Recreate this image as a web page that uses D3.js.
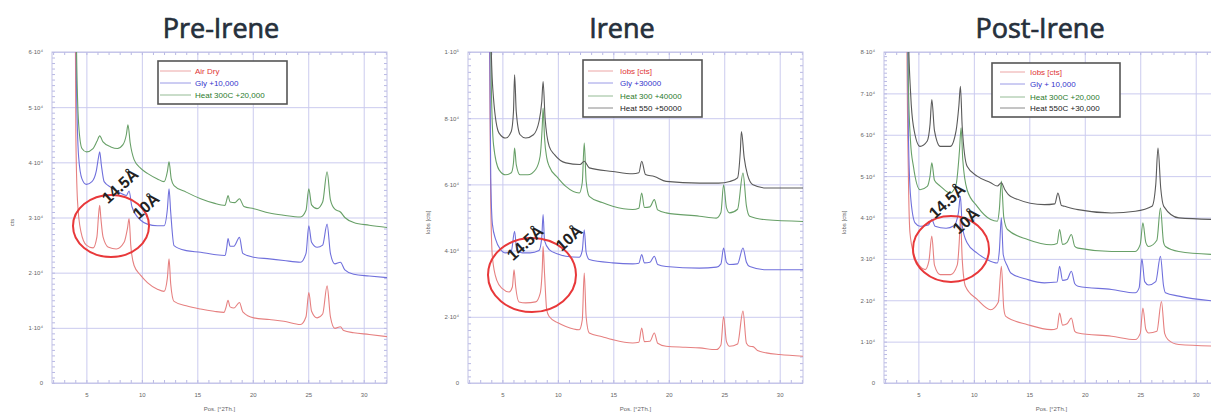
<!DOCTYPE html>
<html>
<head>
<meta charset="utf-8">
<script src="https://cdn.jsdelivr.net/npm/d3@7"></script>
<style>
  body { margin: 0; background: #fff; }
  svg { display: block; }
</style>
</head>
<body>
<svg id="chart" width="1211" height="413"></svg>
<script>
// ---- data: [2theta, counts] ----

// Pre-Irene
const preAirDry = [
  [3.85, 150000], [3.95, 90000], [4.05, 45000], [4.2, 33000], [4.5, 27500], [5.0, 25000],
  [5.6, 24500], [5.95, 26500], [6.1, 30500], [6.2, 32200], [6.3, 30000], [6.5, 26500],
  [7.0, 24600], [7.7, 24300], [8.4, 25500], [8.7, 28000], [8.85, 29800], [9.0, 25000],
  [9.3, 21300], [9.9, 19500], [10.5, 18200], [11.4, 17000], [12.0, 16600], [12.3, 19000],
  [12.45, 22500], [12.6, 18000], [12.9, 14800], [14.0, 14000], [15.3, 13400], [16.5, 13000],
  [17.4, 12800], [17.6, 13800], [17.77, 15000], [17.95, 13800], [18.3, 13600], [18.8, 14600],
  [19.1, 12900], [20.1, 11800], [21.5, 11500], [22.8, 11200], [24.3, 10600], [24.8, 12000],
  [25.05, 16400], [25.3, 13000], [25.8, 11800], [26.3, 12500], [26.7, 17600], [27.0, 12000],
  [27.4, 9900], [27.9, 10200], [28.2, 9500], [29.1, 9100], [30.5, 8800], [32.1, 8400]
];
const preGly = [
  [3.85, 150000], [3.95, 100000], [4.1, 55000], [4.3, 41000], [4.6, 37000], [5.0, 36000],
  [5.5, 36500], [5.9, 38500], [6.1, 41000], [6.2, 41900], [6.35, 39500], [6.6, 36500],
  [7.2, 35500], [8.0, 34500], [8.6, 34000], [8.85, 34800], [9.1, 32000], [9.9, 29500],
  [10.5, 28800], [11.4, 28500], [12.0, 28500], [12.3, 31500], [12.45, 35200], [12.6, 31000],
  [12.9, 24900], [14.0, 24000], [15.3, 23700], [16.5, 23300], [17.5, 23100], [17.65, 24500],
  [17.77, 26200], [17.95, 24800], [18.3, 24800], [18.8, 26400], [19.1, 23500], [20.1, 22800],
  [21.5, 22500], [22.8, 22200], [24.3, 21900], [24.8, 23500], [25.05, 28500], [25.3, 25500],
  [25.8, 24600], [26.3, 25000], [26.7, 28800], [27.0, 23500], [27.4, 21600], [27.9, 21900],
  [28.3, 20500], [29.1, 19700], [30.5, 19400], [32.1, 19100]
];
const preHeat300 = [
  [3.85, 150000], [3.95, 110000], [4.1, 62000], [4.3, 47000], [4.6, 42500], [5.0, 41900],
  [5.6, 42500], [5.95, 43800], [6.2, 44800], [6.5, 43700], [7.2, 42800], [7.8, 42500],
  [8.3, 43200], [8.6, 45000], [8.75, 46800], [8.95, 43500], [9.3, 40500], [9.9, 38900],
  [10.5, 38000], [11.4, 37000], [12.0, 36500], [12.3, 38300], [12.45, 40100], [12.65, 37000],
  [12.9, 35800], [14.0, 34600], [15.3, 33400], [16.5, 32600], [17.5, 32200], [17.65, 33200],
  [17.77, 34000], [17.95, 32800], [18.4, 32700], [18.8, 33400], [19.2, 32000], [20.1, 31600],
  [21.5, 30800], [22.8, 30400], [24.3, 30100], [24.8, 31300], [25.05, 35200], [25.3, 32300],
  [25.8, 31600], [26.3, 32800], [26.7, 38300], [27.0, 33200], [27.4, 31500], [27.9, 31000],
  [28.3, 30000], [29.1, 29100], [30.5, 28600], [32.1, 28200]
];

// Irene
const ireneIobs = [
  [3.7, 250000], [3.8, 120000], [3.95, 55000], [4.1, 38000], [4.5, 31000], [5.0, 28500],
  [5.6, 27500], [5.9, 29000], [6.05, 34200], [6.2, 29000], [6.5, 24500], [7.1, 24200],
  [8.0, 24500], [8.4, 27000], [8.6, 35000], [8.67, 41300], [8.8, 33000], [9.0, 22000],
  [9.22, 20100], [10.0, 18200], [10.72, 17100], [11.93, 16100], [12.2, 19000], [12.38, 33200],
  [12.55, 20000], [12.83, 15100], [14.0, 14000], [14.94, 13100], [16.75, 12100], [17.3, 12300],
  [17.56, 16600], [17.8, 12500], [18.3, 12600], [18.7, 15100], [19.0, 12000], [19.76, 11100],
  [21.5, 10800], [22.77, 10600], [24.28, 10100], [24.7, 11500], [24.94, 20100], [25.2, 12500],
  [25.48, 11100], [26.2, 11800], [26.69, 21700], [27.0, 12000], [27.29, 11100], [27.6, 11000],
  [28.0, 9800], [28.8, 9100], [30.0, 8600], [32.1, 8100]
];
const ireneGly = [
  [3.7, 250000], [3.8, 130000], [3.95, 62000], [4.1, 48000], [4.4, 43300], [4.8, 40500],
  [5.3, 39300], [5.8, 39800], [6.1, 45800], [6.3, 40000], [6.8, 39300], [7.5, 39300],
  [8.3, 40000], [8.55, 44000], [8.67, 50900], [8.8, 43000], [9.22, 40300], [10.0, 39000],
  [10.72, 38300], [11.93, 38000], [12.2, 40000], [12.38, 46300], [12.55, 39500], [12.83, 37300],
  [14.94, 36300], [16.75, 36000], [17.3, 36200], [17.56, 38800], [17.8, 36300], [18.3, 36500],
  [18.7, 38300], [19.0, 35800], [19.76, 35200], [22.77, 34700], [24.3, 35000], [24.7, 36000],
  [24.94, 40800], [25.2, 36500], [25.48, 35800], [26.2, 36000], [26.69, 40800], [27.0, 36500],
  [27.3, 35200], [28.8, 34200], [32.1, 34200]
];
const ireneHeat300 = [
  [3.7, 250000], [3.85, 140000], [4.0, 90000], [4.2, 72000], [4.7, 64400], [5.3, 62900],
  [5.8, 63500], [6.0, 66500], [6.1, 71000], [6.25, 66000], [6.6, 62900], [7.3, 62900],
  [8.0, 64500], [8.4, 68500], [8.6, 78000], [8.67, 83100], [8.8, 74000], [9.0, 68000],
  [9.22, 65500], [10.0, 62000], [10.72, 59400], [11.93, 57400], [12.2, 60500], [12.38, 72500],
  [12.55, 61000], [12.83, 56400], [14.0, 54500], [14.94, 53400], [16.75, 52400], [17.3, 52800],
  [17.56, 57400], [17.8, 53000], [18.3, 53200], [18.7, 55400], [19.0, 52300], [19.76, 51400],
  [22.77, 50400], [24.28, 49800], [24.7, 51500], [24.94, 59900], [25.2, 53000], [25.48, 51400],
  [26.2, 52500], [26.69, 63400], [27.0, 53500], [27.29, 50400], [28.8, 49300], [32.1, 48800]
];
const ireneHeat550 = [
  [3.7, 250000], [3.85, 150000], [4.0, 100000], [4.2, 86000], [4.7, 75500], [5.3, 74000],
  [5.8, 76000], [6.0, 82000], [6.1, 93100], [6.25, 82000], [6.6, 75000], [7.1, 74000],
  [7.8, 75000], [8.3, 79000], [8.55, 85000], [8.67, 91100], [8.85, 80000], [9.22, 71500],
  [9.7, 69000], [10.72, 66500], [12.0, 66000], [12.38, 67000], [12.83, 65000], [14.94, 63900],
  [16.75, 63200], [17.3, 63500], [17.56, 67000], [17.9, 63000], [18.7, 62400], [19.76, 60900],
  [22.77, 60400], [24.5, 60400], [25.5, 60900], [26.2, 62000], [26.45, 70000], [26.55, 76000],
  [26.8, 68000], [27.1, 62900], [27.59, 59900], [28.8, 58900], [32.1, 58900]
];

// Post-Irene
const postIobs = [
  [3.85, 200000], [3.95, 90000], [4.1, 50000], [4.24, 36300], [4.6, 31000], [5.15, 28200],
  [5.61, 27400], [5.95, 29500], [6.21, 35500], [6.45, 28500], [6.97, 26200], [7.9, 26200],
  [8.5, 28500], [8.7, 35000], [8.79, 40300], [8.95, 30000], [9.24, 23400], [10.3, 20200],
  [11.52, 17700], [12.2, 19500], [12.48, 28200], [12.7, 18000], [12.88, 16100], [14.85, 14100],
  [16.97, 12900], [17.5, 13200], [17.73, 16900], [18.0, 14000], [18.4, 14300], [18.79, 15700],
  [19.1, 12500], [19.39, 12100], [22.42, 11300], [24.55, 10500], [25.0, 12000], [25.24, 18100],
  [25.5, 13000], [25.76, 12100], [26.5, 12500], [26.91, 19700], [27.2, 12000], [27.5, 10500],
  [28.48, 9300], [32.1, 8900]
];
const postGly = [
  [3.85, 200000], [3.95, 110000], [4.1, 60000], [4.3, 45000], [4.7, 38700], [5.15, 37900],
  [5.9, 38200], [6.21, 39500], [6.5, 37900], [7.5, 37400], [8.2, 38000], [8.6, 41000],
  [8.79, 45100], [8.95, 38000], [9.39, 33900], [10.3, 31400], [11.21, 29800], [12.12, 29000],
  [12.3, 32000], [12.48, 39900], [12.65, 31000], [13.03, 28200], [13.33, 26600], [14.85, 25000],
  [16.36, 24200], [17.5, 24400], [17.73, 28200], [18.0, 24800], [18.4, 25000], [18.79, 27000],
  [19.1, 24000], [19.39, 23400], [22.42, 22600], [24.55, 21800], [24.9, 23000], [25.15, 30000],
  [25.4, 24500], [25.76, 23700], [26.4, 24500], [26.82, 30600], [27.1, 23500], [27.27, 21800],
  [28.48, 21000], [32.1, 19700]
];
const postHeat300 = [
  [3.85, 200000], [3.95, 120000], [4.1, 72000], [4.3, 58000], [4.55, 52400], [5.15, 46700],
  [5.8, 47500], [6.05, 50000], [6.21, 53200], [6.45, 49000], [6.97, 47600], [7.88, 45900],
  [8.4, 48000], [8.7, 56000], [8.85, 61700], [9.0, 54000], [9.39, 46700], [10.3, 42700],
  [11.52, 39500], [12.12, 39100], [12.3, 42000], [12.48, 48800], [12.7, 40000], [13.03, 37100],
  [14.85, 34700], [16.97, 33400], [17.5, 33700], [17.73, 37100], [18.0, 33500], [18.4, 34000],
  [18.79, 35900], [19.1, 33000], [19.39, 32600], [22.42, 31800], [24.55, 31800], [25.0, 33500],
  [25.24, 38700], [25.5, 34000], [25.76, 33000], [26.5, 34500], [26.82, 42300], [27.1, 34000],
  [27.27, 33000], [28.48, 31800], [32.1, 31000]
];
const postHeat550 = [
  [3.85, 200000], [3.95, 130000], [4.1, 85000], [4.3, 70000], [4.55, 62100], [5.15, 57200],
  [5.8, 58500], [6.05, 62500], [6.21, 68500], [6.45, 61000], [6.97, 57200], [7.88, 57200],
  [8.4, 61000], [8.65, 67000], [8.79, 71700], [8.95, 62000], [9.39, 52400], [10.3, 50000],
  [11.52, 48400], [12.12, 47600], [12.48, 48400], [12.8, 46700], [13.33, 45100], [16.36, 43100],
  [17.3, 43300], [17.58, 45900], [17.9, 42900], [18.18, 42700], [19.39, 41900], [22.42, 41100],
  [24.55, 41500], [26.06, 42700], [26.4, 48000], [26.6, 56800], [26.85, 47000], [27.12, 42700],
  [28.48, 39900], [32.1, 39500]
];

const titles = ["Pre-Irene", "Irene", "Post-Irene"];
const preLegend = ["Air Dry", "Gly +10,000", "Heat 300C +20,000"];
const ireneLegend = ["Iobs [cts]", "Gly +30000", "Heat 300 +40000", "Heat 550 +50000"];
const postLegend = ["Iobs [cts]", "Gly + 10,000", "Heat 300C +20,000", "Heat 550C +30,000"];
const xTicks = [5, 10, 15, 20, 25, 30];
const preYTicks = [0, 10000, 20000, 30000, 40000, 50000, 60000];
const ireneYTicks = [0, 20000, 40000, 60000, 80000, 100000];
const postYTicks = [0, 10000, 20000, 30000, 40000, 50000, 60000, 70000, 80000];
const peakLabels = ["14.5Å", "10Å"];

// ---- layout ----
const W = 335, H = 331, TOP = 52;
const xDomain = [1.9, 32.1];
const lineColors = ["#e68080", "#7070dc", "#68a068", "#5a5a5a"];
const textColors = ["#e03535", "#3535cc", "#2c7a2c", "#222"];

const panels = [
  { left: 52, yMax: 60000, yTicks: preYTicks, yTitle: "cts", title: titles[0], titleX: 221,
    series: [preAirDry, preGly, preHeat300], legend: preLegend,
    lg: { x: 158, y: 61, w: 129, h: 43, rows: [10, 22, 34], lx0: 2, lx1: 33, tx: 37 },
    ell: { cx: 111, cy: 226, rx: 38, ry: 31 },
    ann: [{ x: 120, y: 186, a: -42 }, { x: 146, y: 206, a: -42 }] },
  { left: 468, yMax: 100000, yTicks: ireneYTicks, yTitle: "Iobs [cts]", title: titles[1], titleX: 622,
    series: [ireneIobs, ireneGly, ireneHeat300, ireneHeat550], legend: ireneLegend,
    lg: { x: 583, y: 60, w: 119, h: 57, rows: [11, 23, 36, 48], lx0: 5, lx1: 30, tx: 37 },
    ell: { cx: 532, cy: 275, rx: 44, ry: 37 },
    ann: [{ x: 525, y: 243, a: -42 }, { x: 569, y: 238, a: -42 }] },
  { left: 884, yMax: 80000, yTicks: postYTicks, yTitle: "Iobs [cts]", title: titles[2], titleX: 1040,
    series: [postIobs, postGly, postHeat300, postHeat550], legend: postLegend,
    lg: { x: 992, y: 63, w: 128, h: 54, rows: [9, 21, 34, 45], lx0: 8, lx1: 33, tx: 38 },
    ell: { cx: 951, cy: 249, rx: 38, ry: 33 },
    ann: [{ x: 947, y: 201, a: -42 }, { x: 966, y: 221, a: -42 }] }
];

const sup = { 4: "⁴", 5: "⁵" };
function sci(v) {
  if (!v) return "0";
  const e = Math.floor(Math.log10(v));
  return Math.round(v / Math.pow(10, e)) + "·10" + sup[e];
}

const svg = d3.select("#chart");
const defs = svg.append("defs");

panels.forEach((p, pi) => {
  const x = d3.scaleLinear().domain(xDomain).range([0, W]);
  const y = d3.scaleLinear().domain([0, p.yMax]).range([H, 0]);
  const g = svg.append("g").attr("transform", `translate(${p.left},${TOP})`);

  // grid lines
  const gx = g.append("g").attr("transform", `translate(0,${H})`)
    .call(d3.axisBottom(x).tickValues(xTicks).tickSize(-H).tickFormat(""));
  const gy = g.append("g")
    .call(d3.axisLeft(y).tickValues(p.yTicks).tickSize(-W).tickFormat(""));
  [gx, gy].forEach(a => {
    a.select(".domain").remove();
    a.selectAll("line").attr("stroke", "#cbcbef").attr("stroke-width", 1);
  });

  // minor ticks on the frame
  const xMinor = d3.range(2, 33, 1);
  const yMinor = d3.range(0, p.yMax + 1, p.yTicks[1] / 10);
  const mt = [
    g.append("g").attr("transform", `translate(0,${H})`).call(d3.axisBottom(x).tickValues(xMinor).tickSize(-3).tickFormat("")),
    g.append("g").call(d3.axisTop(x).tickValues(xMinor).tickSize(-3).tickFormat("")),
    g.append("g").call(d3.axisLeft(y).tickValues(yMinor).tickSize(-3).tickFormat("")),
    g.append("g").attr("transform", `translate(${W},0)`).call(d3.axisRight(y).tickValues(yMinor).tickSize(-3).tickFormat(""))
  ];
  mt.forEach(a => {
    a.select(".domain").remove();
    a.selectAll("line").attr("stroke", "#b8b8e4");
  });

  g.append("rect").attr("width", W).attr("height", H)
    .attr("fill", "none").attr("stroke", "#c2c2e6").attr("stroke-width", 1);

  // tick labels
  const xl = g.append("g").attr("transform", `translate(0,${H})`)
    .call(d3.axisBottom(x).tickValues(xTicks).tickSize(0).tickPadding(10));
  const yl = g.append("g")
    .call(d3.axisLeft(y).tickValues(p.yTicks).tickSize(0).tickPadding(9).tickFormat(sci));
  [xl, yl].forEach(a => {
    a.select(".domain").remove();
    a.selectAll("text").attr("fill", "#666").attr("font-size", 6)
      .attr("font-family", "Liberation Sans, Arial, sans-serif");
  });

  // axis titles
  g.append("text").attr("x", W / 2).attr("y", H + 28).attr("text-anchor", "middle")
    .attr("font-size", 6).attr("fill", "#666").attr("font-family", "Liberation Sans, Arial, sans-serif")
    .text("Pos. [°2Th.]");
  g.append("text").attr("transform", `translate(${-38},${H / 2 + 5}) rotate(-90)`)
    .attr("text-anchor", "middle").attr("font-size", 6).attr("fill", "#666")
    .attr("font-family", "Liberation Sans, Arial, sans-serif").text(p.yTitle);

  // curves
  defs.append("clipPath").attr("id", "clip" + pi)
    .append("rect").attr("width", W).attr("height", H);
  const line = d3.line().x(d => x(d[0])).y(d => y(d[1])).curve(d3.curveMonotoneX);
  g.append("g").attr("clip-path", `url(#clip${pi})`)
    .selectAll("path").data(p.series).join("path")
    .attr("d", line).attr("fill", "none")
    .attr("stroke", (d, i) => lineColors[i]).attr("stroke-width", 1.1)
    .attr("stroke-linejoin", "round");

  // title (semi-bold look: regular weight with a thin outline)
  svg.append("text").attr("x", p.titleX).attr("y", 38).attr("text-anchor", "middle")
    .attr("font-family", "Open Sans, sans-serif").attr("font-size", 27)
    .attr("fill", "#26303c").attr("stroke", "#26303c").attr("stroke-width", 0.7)
    .text(p.title);

  // legend
  const lg = svg.append("g").attr("transform", `translate(${p.lg.x},${p.lg.y})`);
  lg.append("rect").attr("width", p.lg.w).attr("height", p.lg.h)
    .attr("fill", "#fff").attr("stroke", "#555").attr("stroke-width", 1.6);
  p.legend.forEach((t, i) => {
    const ry = p.lg.rows[i];
    lg.append("line").attr("x1", p.lg.lx0).attr("x2", p.lg.lx1).attr("y1", ry).attr("y2", ry)
      .attr("stroke", lineColors[i]).attr("stroke-width", 1).attr("opacity", 0.7);
    lg.append("text").attr("x", p.lg.tx).attr("y", ry + 3)
      .attr("font-size", 8).attr("font-family", "Liberation Sans, Arial, sans-serif")
      .attr("fill", textColors[i]).text(t);
  });

  // annotation: circle + peak labels
  svg.append("ellipse").attr("cx", p.ell.cx).attr("cy", p.ell.cy)
    .attr("rx", p.ell.rx).attr("ry", p.ell.ry)
    .attr("fill", "none").attr("stroke", "#e8383a").attr("stroke-width", 2);
  p.ann.forEach((a, i) => {
    svg.append("text").attr("transform", `translate(${a.x},${a.y}) rotate(${a.a})`)
      .attr("text-anchor", "middle").attr("dy", "0.35em")
      .attr("font-family", "Liberation Sans, Arial, sans-serif").attr("font-weight", "bold")
      .attr("font-size", 16).attr("fill", "#222").text(peakLabels[i]);
  });
});
</script>
</body>
</html>
